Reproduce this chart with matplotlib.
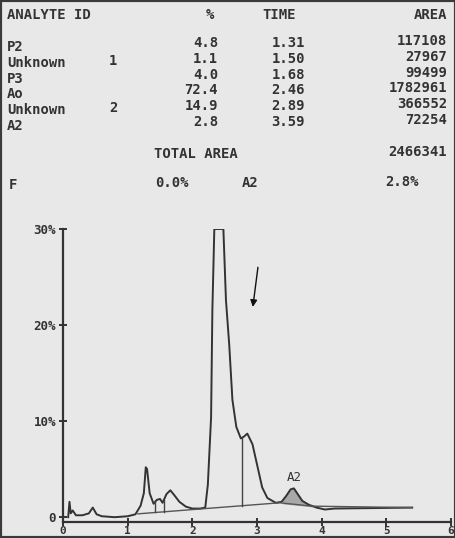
import numpy as np
import matplotlib
matplotlib.use("Agg")
from matplotlib import pyplot as plt
from matplotlib.patches import Rectangle

# tabla del integrador
nombres = ["P2", "Unknown", "P3", "Ao", "Unknown", "A2"]
indices = ["", "1", "", "", "2", ""]
porcentaje = ["4.8", "1.1", "4.0", "72.4", "14.9", "2.8"]
tiempos = ["1.31", "1.50", "1.68", "2.46", "2.89", "3.59"]
areas = ["117108", "27967", "99499", "1782961", "366552", "72254"]
area_total = "2466341"

# cromatograma (min, %)
t = [0.08, 0.10, 0.12, 0.15, 0.20, 0.30, 0.40, 0.46, 0.52, 0.60, 0.80, 1.00,
     1.12, 1.20, 1.25, 1.28, 1.30, 1.34, 1.40, 1.45, 1.50, 1.54, 1.60, 1.66,
     1.72, 1.80, 1.90, 2.00, 2.12, 2.20, 2.24, 2.29, 2.31, 2.34, 2.48, 2.52,
     2.57, 2.62, 2.68, 2.75, 2.80, 2.85, 2.93, 3.01, 3.08, 3.16, 3.29, 3.38,
     3.45, 3.52, 3.57, 3.62, 3.70, 3.80, 3.92, 4.05, 4.20, 5.40]
senal = [0.0, 1.6, 0.4, 0.7, 0.2, 0.2, 0.4, 1.0, 0.3, 0.1, 0.0, 0.1,
         0.3, 1.2, 2.5, 5.2, 5.0, 2.5, 1.4, 1.8, 1.9, 1.5, 2.4, 2.8,
         2.3, 1.6, 1.1, 0.9, 0.9, 1.0, 3.4, 10.4, 21.6, 30.0, 30.0, 22.6,
         18.0, 12.2, 9.4, 8.2, 8.4, 8.7, 7.6, 5.2, 3.1, 2.0, 1.5, 1.6,
         2.2, 2.9, 3.0, 2.5, 1.7, 1.3, 1.0, 0.8, 0.9, 1.0]

# linea base de integracion y cortes
base_t = [1.16, 3.35, 3.85, 5.40]
base_y = [0.35, 1.50, 1.15, 1.00]
cortes = [1.43, 1.56, 2.77]
a2_ini, a2_fin = 3.40, 3.85

W, H = 456, 538
fig = plt.figure(figsize=(W / 100, H / 100), dpi=100)
fig.patch.set_facecolor("#e8e8e8")
fig.patches.append(Rectangle((0, 0), 1, 1, transform=fig.transFigure,
                             fill=False, edgecolor="#3a3a3a", linewidth=3))

mono = "DejaVu Sans Mono"
col = "#333333"


def txt(x, y, s, ha="left"):
    fig.text(x / W, 1 - y / H, s, ha=ha, va="center", family=mono,
             fontsize=10, color=col, fontweight="bold")


txt(7, 15, "ANALYTE ID")
txt(210, 15, "%", "center")
txt(262, 15, "TIME")
txt(447, 15, "AREA", "right")
for i in range(len(nombres)):
    y = 43 + 15.8 * i
    txt(7, y + 4, nombres[i])
    txt(113, y + 2, indices[i], "center")
    txt(218, y, porcentaje[i], "right")
    txt(305, y, tiempos[i], "right")
    txt(447, y - 2, areas[i], "right")
txt(154, 154, "TOTAL AREA")
txt(447, 152, area_total, "right")
txt(9, 185, "F")
txt(155, 183, "0.0%")
txt(242, 183, "A2")
txt(385, 182, "2.8%")

ax = fig.add_axes([63 / W, 1 - 522 / H, (451 - 63) / W, (522 - 229) / H])
ax.set_facecolor("none")
ax.set_xlim(0, 6)
ax.set_ylim(-0.5, 30)
for s in ["top", "right"]:
    ax.spines[s].set_visible(False)
for s in ["left", "bottom"]:
    ax.spines[s].set_color("#333333")
    ax.spines[s].set_linewidth(1.6)

t = np.array(t)
senal = np.array(senal)
ax.plot(t, senal, color="#333333", lw=1.4)
ax.plot(base_t, base_y, color="#555555", lw=1.0)
for c in cortes:
    ax.plot([c, c], [np.interp(c, base_t, base_y), np.interp(c, t, senal)],
            color="#444444", lw=1.0)
tt = np.linspace(a2_ini, a2_fin, 60)
ax.fill_between(tt, np.interp(tt, base_t, base_y), np.interp(tt, t, senal),
                color="#a8a8a8")
ax.text(3.57, 4.1, "A2", ha="center", va="center", family=mono,
        fontsize=9, color=col)
ax.annotate("", xy=(2.93, 21.6), xytext=(3.02, 26.3),
            arrowprops=dict(arrowstyle="-|>", color="#111111", lw=1.0,
                            mutation_scale=10))

ax.set_xticks(range(7))
ax.set_yticks([0, 10, 20, 30])
ax.set_yticklabels(["0", "10%", "20%", "30%"])
ax.tick_params(axis="both", direction="inout", length=6, width=1.4,
               colors="#333333", labelsize=9)
ax.tick_params(axis="x", pad=0, labelsize=8)
ax.tick_params(axis="y", pad=2)
for lab in ax.get_xticklabels() + ax.get_yticklabels():
    lab.set_family(mono)
    lab.set_fontweight("bold")

fig.savefig("out.png", dpi=100, facecolor=fig.get_facecolor())
